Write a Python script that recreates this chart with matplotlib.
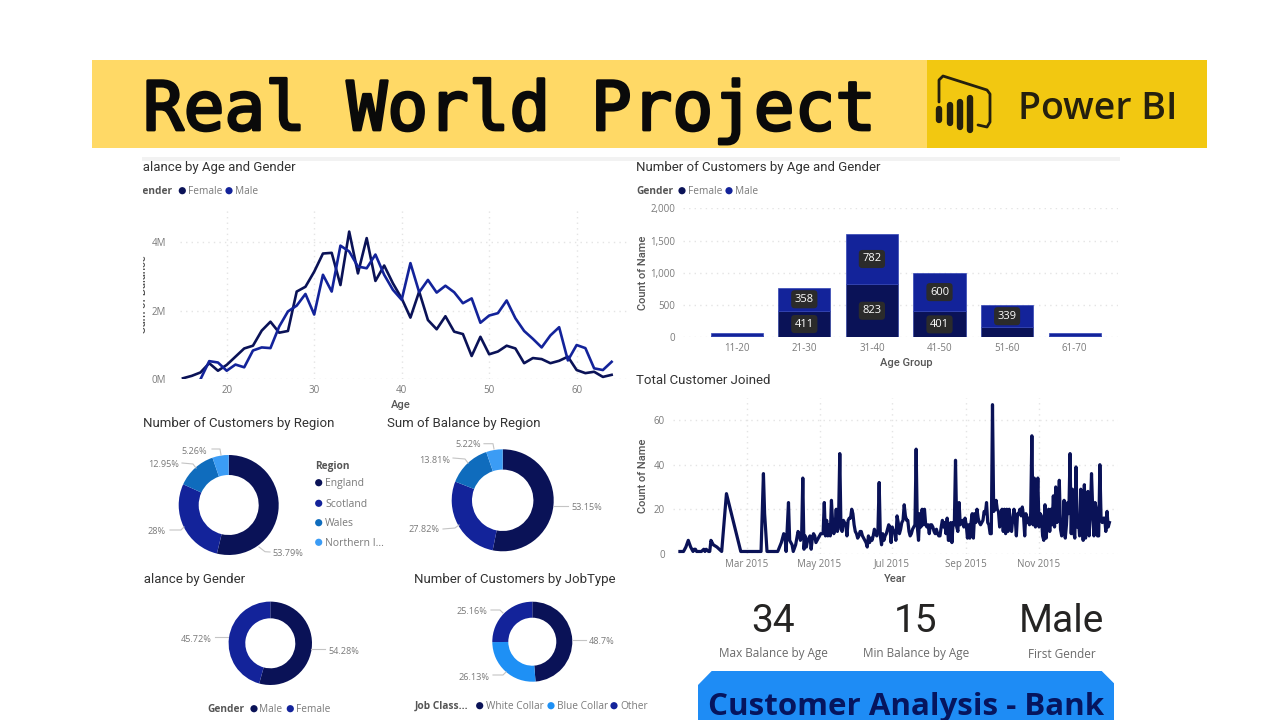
import matplotlib
matplotlib.use("Agg")
import matplotlib.pyplot as plt
import matplotlib.patheffects as pe
from matplotlib.patches import Rectangle, Circle, Polygon

# ---------- data ----------
ages_female = list(range(15, 65))
balance_female = [0.03, 0.10, 0.20, 0.47, 0.25, 0.42, 0.66, 0.90, 0.98, 1.42,
                  1.68, 1.36, 1.41, 2.56, 2.70, 3.14, 3.67, 3.69, 2.75, 4.31,
                  3.09, 4.12, 2.87, 3.32, 2.80, 2.36, 1.80, 2.56, 1.73, 1.46,
                  1.84, 1.39, 1.32, 0.68, 1.24, 0.73, 0.81, 0.98, 0.90, 0.47,
                  0.62, 0.59, 0.47, 0.54, 0.66, 0.27, 0.18, 0.22, 0.07, 0.13]
ages_male = list(range(17, 65))
balance_male = [0.00, 0.53, 0.49, 0.25, 0.43, 0.35, 0.84, 0.93, 0.91, 1.54,
                1.98, 2.15, 2.49, 1.89, 3.05, 2.56, 3.90, 3.73, 3.29, 3.24,
                3.64, 3.05, 2.61, 2.32, 3.39, 2.54, 2.90, 2.53, 2.73, 2.54,
                2.22, 2.36, 1.65, 1.86, 1.93, 2.30, 1.78, 1.41, 1.18, 0.93,
                1.28, 1.52, 0.55, 1.00, 0.91, 0.32, 0.27, 0.51]

age_groups = ["11-20", "21-30", "31-40", "41-50", "51-60", "61-70"]
count_female = [25, 411, 823, 401, 158, 25]
count_male = [47, 358, 782, 600, 339, 47]
label_min = 300

early_days = [3, 5, 6, 8, 10, 12, 13, 14, 15, 16, 17, 18, 20, 21, 23, 24, 25, 27, 28, 29,
              31, 34, 36, 38, 42, 54, 71, 73, 74, 76, 85, 88, 90, 91, 92, 94, 95, 97, 98,
              100, 102, 103, 104, 105]
early_counts = [1, 1, 1, 3, 6, 3, 2, 1, 2, 2, 1, 1, 1, 1, 2, 1, 2, 1, 1, 6,
                4, 3, 2, 1, 27, 1, 1, 36, 18, 1, 1, 5, 9, 8, 1, 23, 6, 4, 1,
                4, 10, 9, 6, 8]
first_daily_day = 106
daily_counts = [34, 2, 8, 3, 6, 7, 8, 2, 7, 9,              # 106
                8, 5, 6, 7, 8, 9, 9, 9, 23, 8,              # 116
                15, 8, 13, 8, 24, 14, 9, 12, 20, 10,        # 126
                16, 45, 11, 10, 15, 14, 13, 8, 15, 16,      # 136
                16, 20, 18, 13, 10, 9, 7, 8, 10, 10,        # 146
                8, 7, 6, 5, 3, 8, 5, 7, 6, 8,               # 156
                11, 9, 8, 11, 32, 8, 4, 9, 6, 8,            # 166
                9, 11, 13, 12, 5, 12, 10, 10, 6, 17,        # 176
                14, 9, 11, 14, 15, 22, 17, 15, 15, 10,      # 186
                8, 9, 11, 12, 13, 47, 12, 6, 18, 12,        # 196
                20, 13, 20, 13, 12, 13, 9, 13, 13, 12,      # 206
                10, 9, 11, 9, 8, 8, 12, 15, 12, 14,         # 216
                9, 16, 6, 6, 14, 5, 14, 13, 42, 12,         # 226
                10, 23, 13, 14, 15, 12, 16, 13, 7, 13,      # 236
                7, 14, 18, 7, 18, 14, 20, 16, 14, 13,       # 246
                14, 15, 19, 18, 23, 14, 13, 9, 9, 67,       # 256
                19, 20, 24, 20, 19, 12, 15, 20, 10, 20,     # 266
                9, 20, 10, 20, 12, 10, 16, 20, 16, 8,       # 276
                18, 18, 20, 17, 21, 17, 8, 18, 14, 16,      # 286
                13, 18, 53, 13, 34, 12, 18, 34, 12, 18,     # 296
                17, 8, 6, 22, 7, 15, 20, 10, 20, 13,        # 306
                26, 12, 30, 14, 16, 33, 11, 8, 9, 24,       # 316
                7, 13, 23, 18, 45, 9, 29, 10, 7, 39,        # 326
                12, 16, 8, 29, 20, 6, 31, 7, 16, 28,        # 336
                8, 18, 36, 20, 8, 23, 20, 8, 8, 40,         # 346
                16, 14, 16, 16, 10, 19, 12, 14]             # 356
month_days = [59, 120, 181, 243, 304]
month_labels = ["Mar 2015", "May 2015", "Jul 2015", "Sep 2015", "Nov 2015"]

region_customers = [53.79, 28, 12.95, 5.26]
region_balance = [53.15, 27.82, 13.81, 5.22]
gender_balance = [54.28, 45.72]
job_customers = [48.7, 26.13, 25.16]
region_names = ["England", "Scotland", "Wales", "Northern I..."]

# ---------- style ----------
NAVY = "#0a1257"
BLUE = "#13239a"
MID = "#0f6cbd"
LIGHT = "#3b9cf5"
SKY = "#1e90f5"
TITLE_C = "#333333"
TICK_C = "#7a7a7a"
LABEL_C = "#555555"
GRID_C = "#e4e4e4"
HEAD = "Roboto"
BODY = "Open Sans"

fig = plt.figure(figsize=(12.8, 7.2), dpi=100, facecolor="white")


def box(l, t, r, b, **kw):
    return fig.add_axes([l / 1280, 1 - b / 720, (r - l) / 1280, (b - t) / 720], **kw)


ov = fig.add_axes([0, 0, 1, 1], zorder=20)
ov.set_xlim(0, 1280)
ov.set_ylim(720, 0)
ov.axis("off")
ov.patch.set_alpha(0)


def txt(x, y, s, size=7, color=TICK_C, ha="left", va="center", family=BODY, weight="normal", rot=0, clip=False):
    shift = 1 if (size < 9 and rot == 0) else 0
    t = ov.text(x, y + shift, s, fontsize=size, color=color, ha=ha, va=va, family=family, weight=weight, rotation=rot)
    if clip:
        t.set_clip_path(Rectangle((142.5, 150), 600, 570, transform=ov.transData))
        t.set_clip_on(True)
    return t


def title(x, y, s, ha="left", clip=False):
    return txt(x, y, s, size=9.5, color=TITLE_C, ha=ha, family=HEAD, clip=clip)


def axis_label(x, y, s, rot=0):
    return txt(x, y, s, size=8, color=LABEL_C, ha="center", rot=rot, family=HEAD, weight="medium", clip=(x < 150))


def dot(x, y, c, r=3.6):
    ov.add_patch(Circle((x, y), r, fc=c, ec="none"))


def style_axes(ax):
    for s in ax.spines.values():
        s.set_visible(False)
    ax.grid(True, color=GRID_C, lw=1.0, ls=(0, (1, 3)))
    ax.set_axisbelow(True)
    ax.tick_params(length=0, labelsize=7, labelcolor=TICK_C)
    for lab in ax.get_xticklabels() + ax.get_yticklabels():
        lab.set_family(BODY)
    ax.patch.set_alpha(0)


# ---------- header ----------
ov.add_patch(Rectangle((92, 60), 835, 88, fc="#ffd966", ec="none"))
ov.add_patch(Rectangle((927, 60), 280, 88, fc="#f2c811", ec="none"))
ov.add_patch(Rectangle((142, 157), 978, 4, fc="#f2f2f2", ec="none"))
head = ov.text(143, 130, "Real World Project", fontsize=48.7, color="#0a0a0a", family="DejaVu Sans Mono",
               ha="left", va="baseline")
head.set_path_effects([pe.withStroke(linewidth=2.0, foreground="#0a0a0a")])
ov.text(1018, 119.3, "Power BI", fontsize=27, color="#25200e", family=BODY, weight="semibold", ha="left", va="baseline")
ov.plot([939, 939, 943, 987, 990, 990, 987, 978], [102, 80, 76, 90, 94, 122, 127, 125],
        color="#25200e", lw=2.0, solid_joinstyle="round", solid_capstyle="round")
for bx, by0, by1 in [(939.3, 109, 120), (950, 105, 123), (960, 102, 127), (970.3, 98, 130)]:
    ov.plot([bx, bx], [by0, by1], color="#25200e", lw=4.6, solid_capstyle="round")

# ---------- line chart ----------
ax = box(180, 210, 630, 379.3)
ax.plot(ages_female, balance_female, color=NAVY, lw=1.9, solid_joinstyle="round")
ax.plot(ages_male, balance_male, color=BLUE, lw=1.9, solid_joinstyle="round")
ax.set_xlim(14.66, 66.1)
ax.set_ylim(0, 4.94)
ax.set_xticks([20, 30, 40, 50, 60])
ax.set_yticks([0, 2, 4])
ax.set_yticklabels(["0M", "2M", "4M"])
style_axes(ax)
ax.tick_params(axis="x", pad=4)
ax.tick_params(axis="y", pad=10)
title(296, 167, "Sum of Balance by Age and Gender", ha="right", clip=True)
txt(172, 190.7, "Gender", size=7.3, color=LABEL_C, ha="right", weight="bold", clip=True)
dot(182.3, 190.7, NAVY)
txt(187.7, 190.7, "Female", size=7.3)
dot(229, 190.7, BLUE)
txt(235, 190.7, "Male", size=7.3)
axis_label(142.5, 294, "Sum of Balance", rot=90)
axis_label(401, 404, "Age")

# ---------- stacked bars ----------
ax = box(683, 208.3, 1118, 337.3)
pos = list(range(len(age_groups)))
ax.bar(pos, count_female, width=0.774, color=NAVY, edgecolor="#2f3f9f", lw=0.5)
ax.bar(pos, count_male, width=0.774, bottom=count_female, color=BLUE, edgecolor="#3345b5", lw=0.5)
ax.set_xlim(-0.794, 5.64)
ax.set_ylim(0, 2000)
ax.set_xticks(pos)
ax.set_xticklabels(age_groups)
ax.set_yticks([0, 500, 1000, 1500, 2000])
ax.set_yticklabels(["0", "500", "1,000", "1,500", "2,000"])
style_axes(ax)
ax.grid(False, axis="x")
ax.tick_params(axis="x", pad=4)
ax.tick_params(axis="y", pad=5.8)
bar_bbox = dict(boxstyle="round,pad=0.32", fc="#2b2b2b", ec="none")
for i, (f, m) in enumerate(zip(count_female, count_male)):
    if f > label_min:
        ax.text(i, f / 2, str(f), ha="center", va="center", color="white", fontsize=8, family=BODY, bbox=bar_bbox)
    if m > label_min:
        ax.text(i, f + m / 2, str(m), ha="center", va="center", color="white", fontsize=8, family=BODY, bbox=bar_bbox)
title(636, 167, "Number of Customers by Age and Gender")
txt(636, 190.7, "Gender", size=7.3, color=LABEL_C, weight="bold")
dot(682, 190.7, NAVY)
txt(687.7, 190.7, "Female", size=7.3)
dot(729, 190.7, BLUE)
txt(735, 190.7, "Male", size=7.3)
axis_label(642.7, 272.7, "Count of Name", rot=90)
axis_label(906.7, 361.7, "Age Group")

# ---------- time series ----------
ax = box(673, 398, 1118, 553.7)
days = early_days + list(range(first_daily_day, first_daily_day + len(daily_counts)))
counts = early_counts + daily_counts
ax.plot(days, counts, color=NAVY, lw=2.3, solid_joinstyle="round", clip_on=False)
ax.set_xlim(-2.8, 370.2)
ax.set_ylim(0, 70)
ax.set_xticks(month_days)
ax.set_xticklabels([])
ax.set_yticks([0, 20, 40, 60])
style_axes(ax)
ax.tick_params(axis="y", pad=5.8)
for d, lab in zip(month_days, month_labels):
    ax.text(d, -0.083, lab, transform=ax.get_xaxis_transform(), ha="center", va="baseline",
            fontsize=7, color=TICK_C, family=BODY, clip_on=False)
title(636, 380, "Total Customer Joined")
axis_label(642.7, 476, "Count of Name", rot=90)
axis_label(895, 578.3, "Year")


# ---------- donuts ----------
def donut(cx, cy, ro, ri, vals, cols):
    a = box(cx - ro, cy - ro, cx + ro, cy + ro)
    a.pie(vals, colors=cols, startangle=90, counterclock=False, radius=1,
          wedgeprops=dict(width=1 - ri / ro, edgecolor="none"))
    a.set_xlim(-1, 1)
    a.set_ylim(-1, 1)


def leader(xs, ys):
    ov.plot(xs, ys, color="#c4c4c4", lw=0.8)


donut(228.7, 505, 50, 30, region_customers, [NAVY, BLUE, MID, LIGHT])
donut(502.7, 500.3, 51, 30.7, region_balance, [NAVY, BLUE, MID, LIGHT])
donut(270.3, 643.3, 41.7, 25, gender_balance, [NAVY, BLUE])
donut(532.3, 641.7, 40, 24, job_customers, [NAVY, SKY, BLUE])

title(143, 423, "Number of Customers by Region")
title(387, 423, "Sum of Balance by Region")
title(245, 579.5, "Sum of Balance by Gender", ha="right", clip=True)
title(414, 579.5, "Number of Customers by JobType")

pct = [(194, 450, "5.26%", [212, 220, 221], [449, 449, 455]),
       (163.3, 463.7, "12.95%", [182, 193, 196], [463, 464, 468]),
       (156.7, 530, "28%", [170, 181, 184], [530, 530, 527]),
       (288, 552, "53.79%", [259, 265, 270], [547, 551.7, 552]),
       (468, 443.7, "5.22%", [484, 493, 494], [443.7, 443.7, 449]),
       (435, 459.3, "13.81%", [453, 465, 468], [458, 459, 463]),
       (587, 506.7, "53.15%", [554.3, 568], [505.7, 505.7]),
       (424, 529, "27.82%", [443, 455, 459], [529, 528, 525]),
       (196, 638, "45.72%", [215, 228], [637, 637]),
       (344, 650, "54.28%", [311, 325], [649.3, 649.3]),
       (472.3, 610.3, "25.16%", [491, 500, 503], [610, 610, 613]),
       (474, 676, "26.13%", [493, 503, 506], [675, 675, 672]),
       (602, 640.7, "48.7%", [572.7, 586], [640, 640])]
for x, y, s, lx, ly in pct:
    txt(x, y, s, size=6.6, ha="center")
    leader(lx, ly)

txt(315, 466, "Region", size=7.3, color=LABEL_C, weight="bold")
for y, name, col in zip([482.7, 503.3, 522.7, 542.3], region_names, [NAVY, BLUE, MID, LIGHT]):
    dot(318.7, y, col)
    txt(325, y, name, size=7.5)

txt(225.7, 708.7, "Gender", size=7.3, color=LABEL_C, ha="center", weight="bold")
dot(254, 708.7, NAVY)
txt(259.3, 708.7, "Male", size=7.3)
dot(290.3, 708.7, BLUE)
txt(296.3, 708.7, "Female", size=7.3)

txt(415, 705.7, "Job Class...", size=7.3, color=LABEL_C, weight="bold")
dot(479.7, 705.7, NAVY)
txt(485.7, 705.7, "White Collar", size=7.3)
dot(551, 705.7, SKY)
txt(556.7, 705.7, "Blue Collar", size=7.3)
dot(614, 705.7, BLUE)
txt(620, 705.7, "Other", size=7.3)

# ---------- KPI cards ----------
for x, big, small in [(773, "34", "Max Balance by Age"), (916, "15", "Min Balance by Age"), (1061.7, "Male", "First Gender")]:
    txt(x, 621.5, big, size=28, color="#252423", ha="center", family=HEAD)
    txt(x, 653, small, size=8.5, color="#6a6a6a", ha="center")

# ---------- banner ----------
ov.add_patch(Polygon([(698, 720), (698, 685), (711.7, 671), (1101.7, 671), (1114, 683.3), (1114, 720)],
                     closed=True, fc="#1e8cf5", ec="none"))
ov.text(906, 715, "Customer Analysis - Bank", fontsize=22.5, color="#06155e", ha="center", va="baseline",
        family=BODY, weight="bold")

fig.savefig("out.png", dpi=100)
